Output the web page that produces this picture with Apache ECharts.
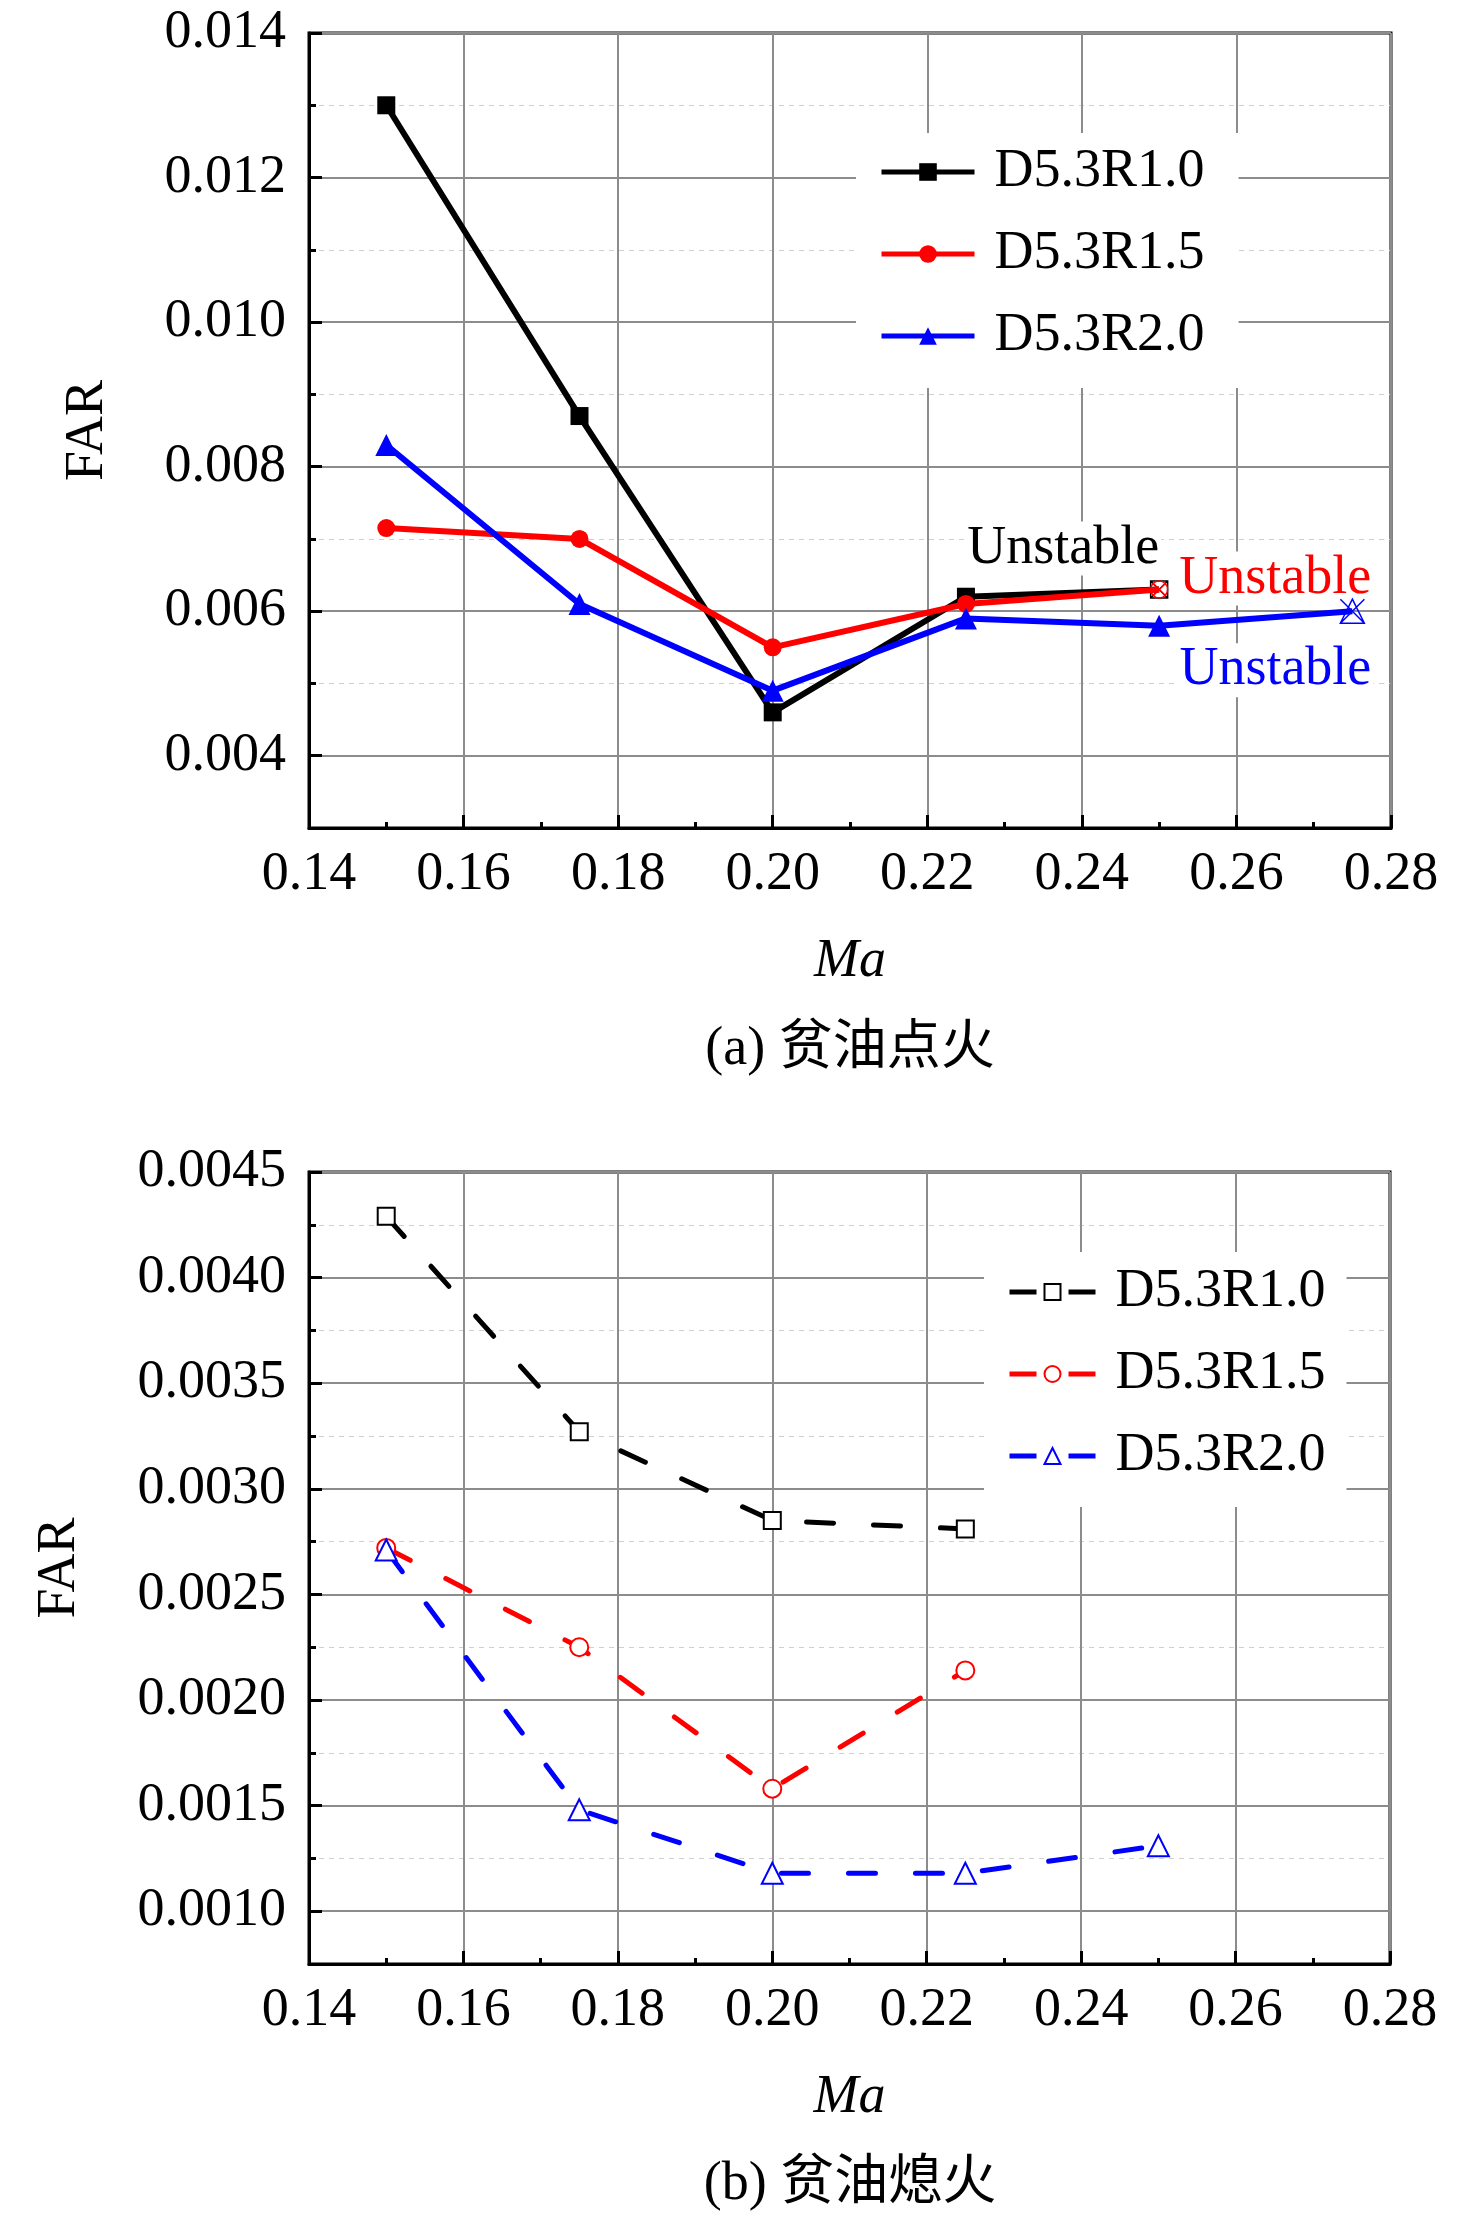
<!DOCTYPE html>
<html lang="zh">
<head>
    <meta charset="UTF-8">
    <title>FAR vs Ma</title>
    <script src="https://cdn.jsdelivr.net/npm/echarts@6.0.0/dist/echarts.min.js"></script>
    <style>
        * { margin: 0; padding: 0; box-sizing: border-box; }
        body { background: #fff; }
        #chart { width: 1476px; height: 2228px; }
    </style>
</head>
<body>
    <div id="chart"></div>

    <script>
        // names of the three configurations
        const seriesNames = ['D5.3R1.0', 'D5.3R1.5', 'D5.3R2.0'];

        // (a) lean ignition
        const maIgnShort = [0.15, 0.175, 0.20, 0.225, 0.25];
        const maIgnLong = [0.15, 0.175, 0.20, 0.225, 0.25, 0.275];
        const ignR10 = [0.0130, 0.0087, 0.0046, 0.0062, 0.0063];
        const ignR15 = [0.00715, 0.0070, 0.0055, 0.0061, 0.0063];
        const ignR20 = [0.0083, 0.0061, 0.0049, 0.0059, 0.0058, 0.0060];

        // (b) lean blowout
        const maBlowShort = [0.15, 0.175, 0.20, 0.225];
        const maBlowLong = [0.15, 0.175, 0.20, 0.225, 0.25];
        const blowR10 = [0.00429, 0.00327, 0.00285, 0.00281];
        const blowR15 = [0.00272, 0.00225, 0.00158, 0.00214];
        const blowR20 = [0.00271, 0.00148, 0.00118, 0.00118, 0.00131];

        // tick labels
        const yMajorIgn = [0.004, 0.006, 0.008, 0.010, 0.012, 0.014];
        const yMinorIgn = [0.005, 0.007, 0.009, 0.011, 0.013];
        const yMajorBlow = [0.0010, 0.0015, 0.0020, 0.0025, 0.0030, 0.0035, 0.0040, 0.0045];
        const yMinorBlow = [0.00125, 0.00175, 0.00225, 0.00275, 0.00325, 0.00375, 0.00425];

        const captions = ['(a) 贫油点火', '(b) 贫油熄火'];
        const unstableText = 'Unstable';

        const serif = '"Liberation Serif", "Times New Roman", serif';
        const cjk = '"Liberation Serif", "Noto Sans CJK SC", serif';
        const colors = ['#000000', '#ff0000', '#0000ff'];

        // crossed hollow markers for the unstable points
        const crossSquare = 'path://M0,0H10V10H0Z M0,0L10,10 M10,0L0,10';
        const crossCircle = 'path://M10,5A5,5 0 1,1 0,5A5,5 0 1,1 10,5Z M1.5,1.5L8.5,8.5 M8.5,1.5L1.5,8.5';
        const crossTriangle = 'path://M5,0L10,9H0Z M0,0L10,9 M10,0L0,9';

        function pairs(xs, ys) {
            return ys.map((v, i) => [xs[i], v]);
        }

        function markUnstable(data, color, symbol, size, offset) {
            const last = data.length - 1;
            data[last] = {
                value: data[last],
                symbol: symbol,
                symbolSize: size,
                itemStyle: { color: 'rgba(0,0,0,0)', borderColor: color, borderWidth: 1.5 },
                label: {
                    show: true,
                    formatter: unstableText,
                    position: 'inside',
                    offset: offset,
                    align: 'center',
                    verticalAlign: 'middle',
                    fontFamily: serif,
                    fontSize: 54,
                    color: color,
                    backgroundColor: '#fff',
                    padding: [0, 2]
                }
            };
            return data;
        }

        function xAxisOpt(gridIndex) {
            return {
                type: 'value',
                gridIndex: gridIndex,
                min: 0.14,
                max: 0.28,
                interval: 0.02,
                name: 'Ma',
                nameLocation: 'middle',
                nameGap: 107,
                nameTextStyle: { fontFamily: serif, fontStyle: 'italic', fontSize: 54, color: '#000' },
                axisLine: { show: true, onZero: false, lineStyle: { color: '#000', width: 3 } },
                axisTick: { show: true, inside: true, length: 13, lineStyle: { color: '#000', width: 3 } },
                minorTick: { show: true, splitNumber: 2, length: 6, lineStyle: { color: '#000', width: 3 } },
                axisLabel: {
                    margin: 20, fontFamily: serif, fontSize: 54, color: '#000',
                    formatter: v => v.toFixed(2)
                },
                splitLine: { show: true, lineStyle: { color: '#8c8c8c', width: 2 } }
            };
        }

        function yMajorOpt(gridIndex, min, max, step, ticks, digits, gap) {
            return {
                type: 'value',
                gridIndex: gridIndex,
                position: 'left',
                min: min,
                max: max,
                interval: step,
                name: 'FAR',
                nameLocation: 'middle',
                nameRotate: 90,
                nameGap: gap,
                nameTextStyle: { fontFamily: serif, fontSize: 54, color: '#000' },
                axisLine: { show: true, onZero: false, lineStyle: { color: '#000', width: 3 } },
                axisTick: { show: true, inside: true, length: 13, customValues: ticks, lineStyle: { color: '#000', width: 3 } },
                axisLabel: {
                    margin: 23, fontFamily: serif, fontSize: 54, color: '#000',
                    customValues: ticks,
                    formatter: v => v.toFixed(digits)
                },
                splitLine: { show: true, lineStyle: { color: '#8c8c8c', width: 2 } }
            };
        }

        function yMinorOpt(gridIndex, min, max, step, ticks) {
            return {
                type: 'value',
                gridIndex: gridIndex,
                position: 'left',
                min: min,
                max: max,
                interval: step,
                axisLine: { show: false },
                axisTick: { show: true, inside: true, length: 7, customValues: ticks, lineStyle: { color: '#000', width: 3 } },
                axisLabel: { show: false, customValues: ticks },
                splitLine: { show: true, lineStyle: { color: '#cfcfcf', width: 1, type: [5, 5] } }
            };
        }

        const chart = echarts.init(document.getElementById('chart'));

        const ignSymbols = ['rect', 'circle', 'triangle'];
        const ignSizes = [18, 18, 22];
        const blowSymbols = ['emptyRect', 'emptyCircle', 'emptyTriangle'];
        const blowSizes = [17, 18, 21];

        const ignData = [
            markUnstable(pairs(maIgnShort, ignR10), colors[0], crossSquare, 17, [-96, -41]),
            markUnstable(pairs(maIgnShort, ignR15), colors[1], crossCircle, 17, [116, -11]),
            markUnstable(pairs(maIgnLong, ignR20), colors[2], crossTriangle, 24, [-77, 59])
        ];
        const blowData = [
            pairs(maBlowShort, blowR10),
            pairs(maBlowShort, blowR15),
            pairs(maBlowLong, blowR20)
        ];

        const series = [];
        seriesNames.forEach((name, i) => {
            series.push({
                name: name,
                type: 'line',
                xAxisIndex: 0,
                yAxisIndex: 0,
                data: ignData[i],
                symbol: ignSymbols[i],
                symbolSize: ignSizes[i],
                lineStyle: { color: colors[i], width: 6 },
                itemStyle: { color: colors[i] },
                z: 3 + i
            });
        });
        seriesNames.forEach((name, i) => {
            series.push({
                name: name + ' (b)',
                type: 'line',
                xAxisIndex: 1,
                yAxisIndex: 2,
                data: blowData[i],
                symbol: blowSymbols[i],
                symbolSize: blowSizes[i],
                lineStyle: { color: colors[i], width: 5, type: [27, 40], cap: 'round' },
                itemStyle: { color: colors[i], borderWidth: 1.5 },
                z: 3 + i
            });
        });

        const legendText = { fontFamily: serif, fontSize: 54, color: '#000', padding: [0, 0, 0, 15] };

        chart.setOption({
            animation: false,
            backgroundColor: '#fff',
            grid: [
                { left: 309, top: 33, width: 1082, height: 795, show: true, borderColor: '#000', borderWidth: 3, backgroundColor: 'transparent' },
                { left: 309, top: 1172, width: 1081, height: 792, show: true, borderColor: '#000', borderWidth: 3, backgroundColor: 'transparent' }
            ],
            xAxis: [xAxisOpt(0), xAxisOpt(1)],
            yAxis: [
                yMajorOpt(0, 0.003, 0.014, 0.001, yMajorIgn, 3, 194),
                yMinorOpt(0, 0.003, 0.014, 0.001, yMinorIgn),
                yMajorOpt(1, 0.00075, 0.0045, 0.00025, yMajorBlow, 4, 222),
                yMinorOpt(1, 0.00075, 0.0045, 0.00025, yMinorBlow)
            ],
            legend: [
                {
                    orient: 'vertical',
                    left: 856,
                    top: 133,
                    data: seriesNames,
                    itemWidth: 93,
                    itemHeight: 22,
                    itemGap: 28,
                    padding: [12, 34, 25, 23],
                    backgroundColor: '#fff',
                    lineStyle: { width: 5 },
                    textStyle: legendText,
                    selectedMode: false
                },
                {
                    orient: 'vertical',
                    left: 984,
                    top: 1252,
                    data: seriesNames.map(n => n + ' (b)'),
                    formatter: n => n.replace(' (b)', ''),
                    itemWidth: 86,
                    itemHeight: 20,
                    itemGap: 28,
                    padding: [13, 21, 24, 23],
                    backgroundColor: '#fff',
                    lineStyle: { width: 5, type: [27, 32], cap: 'butt' },
                    textStyle: legendText,
                    selectedMode: false
                }
            ],
            graphic: [
                { type: 'text', x: 850, y: 1050, style: { text: captions[0], font: '54px ' + cjk, fill: '#000', textAlign: 'center', textVerticalAlign: 'middle' } },
                { type: 'text', x: 850, y: 2185, style: { text: captions[1], font: '54px ' + cjk, fill: '#000', textAlign: 'center', textVerticalAlign: 'middle' } }
            ],
            series: series
        });

        window.addEventListener('resize', function () {
            chart.resize();
        });
    </script>
</body>
</html>
